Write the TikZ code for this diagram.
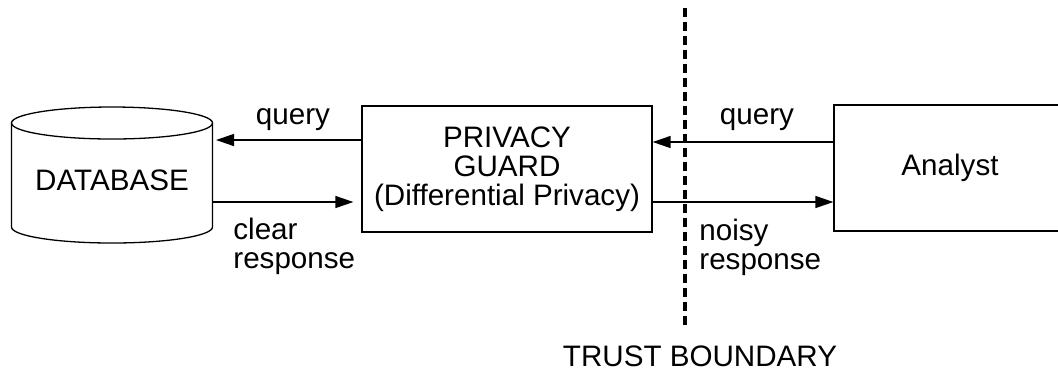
\documentclass[tikz,border=0pt]{standalone}
\usepackage{fontspec}
\setmainfont{Liberation Sans}
\usetikzlibrary{arrows.meta}
\tikzset{
  box/.style={draw, line width=0.65pt, minimum width=#1, minimum height=63pt,
    inner sep=0pt, align=center},
  flow/.style={-{Triangle[length=9pt,width=6pt]}, line width=0.7pt},
  lbl/.style={inner sep=0pt, align=left},
  boundary/.style={line width=1.8pt, dash pattern=on 4.5pt off 2.5pt},
}
\begin{document}
\begin{tikzpicture}[x=0.5pt, y=-0.5pt, font=\fontsize{14.8}{14.5}\selectfont]
  \path[use as bounding box, clip] (0,0) rectangle (1058,372);
  % database cylinder
  \draw[line width=0.65pt] (11.5,123) -- (11.5,227) arc (180:0:100.5 and 16) -- (212.5,123);
  \draw[line width=0.65pt] (112,123) ellipse (100.5 and 16);
  \node (db) at (112,180) {DATABASE};
  \node[box=145pt] (guard) at (507,169) {PRIVACY\\GUARD\\(Differential Privacy)};
  \node[box=116pt] (analyst) at (950,168) {Analyst};
  \coordinate (dbq) at (216,140);
  \coordinate (dbr) at (212.5,202);
  \coordinate (aq) at (834,142);
  \coordinate (an) at (652,202);
  \draw[flow] (guard.west |- dbq) -- (dbq);
  \draw[flow, shorten >=4pt] (dbr) -- (guard.west |- dbr);
  \draw[flow] (analyst.west |- aq) -- (guard.east |- aq);
  \draw[flow] (guard.east |- an) -- (analyst.west |- an);
  \node[lbl] (q1) at (293,120) {query};
  \node[lbl, anchor=west] (r1) at (233,246) {clear\\response};
  \node[lbl] (q2) at (757,120) {query};
  \node[lbl, anchor=west] (r2) at (699,247) {noisy\\response};
  % trust boundary
  \coordinate (btop) at (685,8);
  \coordinate (bbot) at (685,328);
  \draw[boundary] (btop) -- (bbot);
  \node (trust) at (700,356) {TRUST BOUNDARY};
\end{tikzpicture}
\end{document}
